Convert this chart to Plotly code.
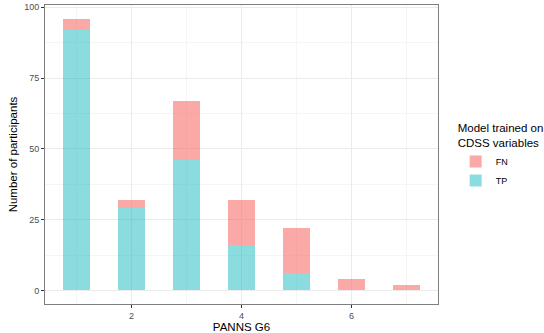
import plotly.graph_objects as go

panns = [1, 2, 3, 4, 5, 6, 7]
tp_counts = [92, 29, 46, 16, 6, 0, 0]
fn_counts = [4, 3, 21, 16, 16, 4, 2]
y_ticks = [0, 25, 50, 75, 100]
x_ticks = [2, 4, 6]

fig = go.Figure()
fig.add_trace(go.Bar(x=panns, y=tp_counts, name="TP", width=0.5,
                     marker=dict(color="rgba(0,178,182,0.46)", line=dict(width=0))))
fig.add_trace(go.Bar(x=panns, y=fn_counts, name="FN", width=0.5,
                     marker=dict(color="rgba(246,112,106,0.6)", line=dict(width=0))))

fig.update_layout(
    barmode="stack",
    width=544, height=333,
    margin=dict(l=45, r=106, t=5, b=29, autoexpand=False),
    paper_bgcolor="white", plot_bgcolor="white",
    font=dict(family="Liberation Sans, Arial, sans-serif", color="#000000"),
    showlegend=True,
    legend=dict(
        x=1.045, xanchor="left", y=0.625, yanchor="top",
        title=dict(text="Model trained on<br>CDSS variables", font=dict(size=11.5)),
        traceorder="reversed",
        font=dict(size=9),
        tracegroupgap=0,
        itemwidth=30,
        bgcolor="rgba(0,0,0,0)",
    ),
    xaxis=dict(
        automargin=False,
        range=[0.425, 7.575],
        tickvals=x_ticks,
        ticks="outside", ticklen=3, tickcolor="#333333",
        tickfont=dict(size=9, color="#4D4D4D"),
        showgrid=True, gridcolor="#EBEBEB", gridwidth=1,
        minor=dict(dtick=1, tick0=0, showgrid=True, gridcolor="#F5F5F5", gridwidth=0.5),
        showline=True, mirror=True, linecolor="#7F7F7F", linewidth=1,
        zeroline=False,
        title=dict(text="PANNS G6", font=dict(size=11.5), standoff=0),
    ),
    yaxis=dict(
        automargin=False,
        range=[-4.8, 100.8],
        tickvals=y_ticks,
        ticks="outside", ticklen=3, tickcolor="#333333",
        tickfont=dict(size=9, color="#4D4D4D"),
        showgrid=True, gridcolor="#EBEBEB", gridwidth=1,
        minor=dict(dtick=12.5, tick0=0, showgrid=True, gridcolor="#F5F5F5", gridwidth=0.5),
        showline=True, mirror=True, linecolor="#7F7F7F", linewidth=1,
        zeroline=False,
        title=dict(text="Number of participants", font=dict(size=11.5), standoff=4),
    ),
)

fig.write_html("out.html", config={"displayModeBar": False},
               post_script="document.body.style.margin='0';")
